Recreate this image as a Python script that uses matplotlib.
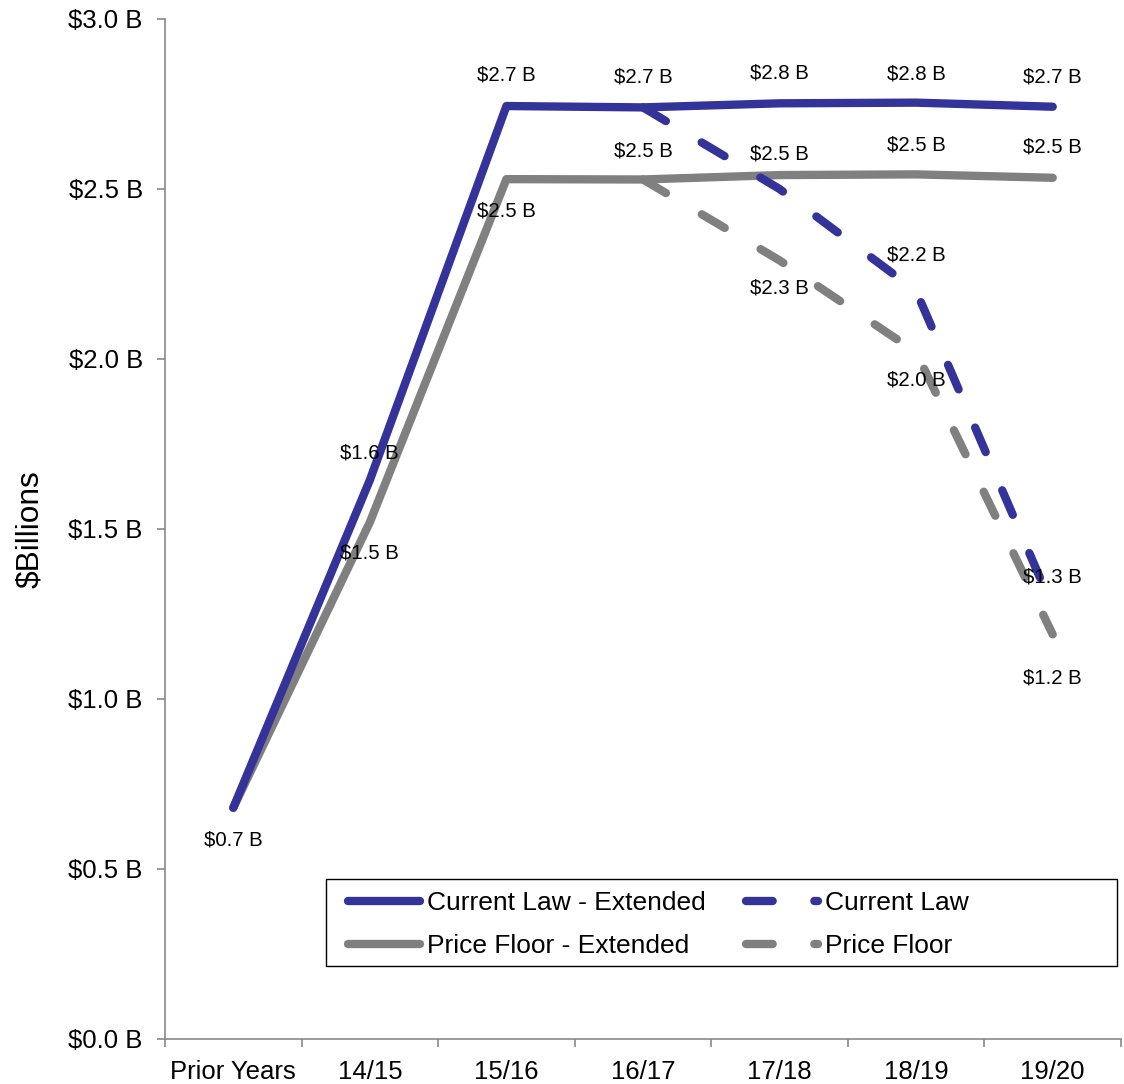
import numpy as np
import matplotlib
matplotlib.use("Agg")
import matplotlib.pyplot as plt
from matplotlib.patches import Rectangle

plt.rcParams['font.family'] = ['Liberation Sans', 'DejaVu Sans']

categories = ["Prior Years", "14/15", "15/16", "16/17", "17/18", "18/19", "19/20"]
current_law_ext = [0.68, 1.644, 2.744, 2.740, 2.752, 2.754, 2.742]
price_floor_ext = [0.68, 1.52, 2.529, 2.528, 2.541, 2.543, 2.533]
current_law = [None, None, None, 2.740, 2.50, 2.20, 1.27]
price_floor = [None, None, None, 2.528, 2.29, 2.02, 1.19]
y_ticks = [0.0, 0.5, 1.0, 1.5, 2.0, 2.5, 3.0]

# which points carry a data label, and vertical label offsets (pixels)
cle_show = [True, True, True, True, True, True, True]
cle_off = [-32, 27, 31, 30, 30, 29, 30]
pfe_show = [False, True, True, True, False, True, True]
pfe_off = [0, -31, -32, 28, 0, 29, 31]
cl_show = [False, False, False, False, True, True, True]
cl_off = [0, 0, 0, 0, 35, 36, 30]
pf_show = [False, False, False, False, True, True, True]
pf_off = [0, 0, 0, 0, -28, -28, -44]

BLUE = "#333399"
GRAY = "#808080"
AX = "#898989"

def arr(v):
    return np.array([np.nan if x is None else x for x in v], dtype=float)

fig = plt.figure(figsize=(11.24, 10.84), dpi=100)
ax = fig.add_axes([165/1124, 1-1039/1084, (1121-165)/1124, (1039-19)/1084])

x = np.arange(len(categories))
lw = 6.0
ax.plot(x, arr(current_law_ext), color=BLUE, lw=lw, solid_capstyle='round',
        solid_joinstyle='round', label="Current Law - Extended", zorder=3)
ax.plot(x, arr(current_law), color=BLUE, lw=lw, dashes=(3.2, 5.0),
        dash_capstyle='round', dash_joinstyle='round', label="Current Law", zorder=3)
ax.plot(x, arr(price_floor_ext), color=GRAY, lw=lw, solid_capstyle='round',
        solid_joinstyle='round', label="Price Floor - Extended", zorder=2)
ax.plot(x, arr(price_floor), color=GRAY, lw=lw, dashes=(3.2, 5.0),
        dash_capstyle='round', dash_joinstyle='round', label="Price Floor", zorder=2)

def labels(vals, show, offs):
    for i, (v, s, o) in enumerate(zip(vals, show, offs)):
        if s and v is not None:
            ax.annotate(f"${v:.1f} B", (x[i], v), xytext=(0, o),
                        textcoords='offset pixels', ha='center', va='center',
                        fontsize=14.7, color='black', zorder=5)

labels(current_law_ext, cle_show, cle_off)
labels(price_floor_ext, pfe_show, pfe_off)
labels(current_law, cl_show, cl_off)
labels(price_floor, pf_show, pf_off)

ax.set_xlim(-0.5, len(categories) - 0.5)
ax.set_ylim(0, 3.0)
ax.set_yticks(y_ticks)
ax.set_yticklabels([f"${t:.1f} B" for t in y_ticks])
ax.set_xticks(x)
ax.set_xticklabels(categories)
ax.set_xticks(np.arange(-0.5, len(categories)), minor=True)
ax.tick_params(axis='x', which='major', length=0, pad=15, labelsize=18.5)
ax.tick_params(axis='x', which='minor', length=6, width=1.2, color=AX, direction='out')
ax.tick_params(axis='y', which='major', length=6, width=1.2, color=AX, pad=10,
               labelsize=18.5, direction='out')
for sp in ['top', 'right']:
    ax.spines[sp].set_visible(False)
for sp in ['left', 'bottom']:
    ax.spines[sp].set_color(AX)
    ax.spines[sp].set_linewidth(1.2)

ax.set_ylabel("$Billions", fontsize=22.8, labelpad=17)

# legend box
ax.add_patch(Rectangle(((326-165)/956, (1039-966)/1020), (1117-326)/956, (966-879)/1020,
                       transform=ax.transAxes, fill=False, edgecolor='black', lw=1.0,
                       zorder=6))
h, l = ax.get_legend_handles_labels()
order = [0, 2, 1, 3]
leg = ax.legend([h[i] for i in order], [l[i] for i in order], ncol=2,
                loc='upper left', bbox_to_anchor=((348-165)/956, (1039-891)/1020),
                frameon=False, fontsize=19, handlelength=2.73, handletextpad=0.27,
                columnspacing=1.52, labelspacing=0.73, borderpad=0, borderaxespad=0)

fig.savefig("out.png", dpi=100)
